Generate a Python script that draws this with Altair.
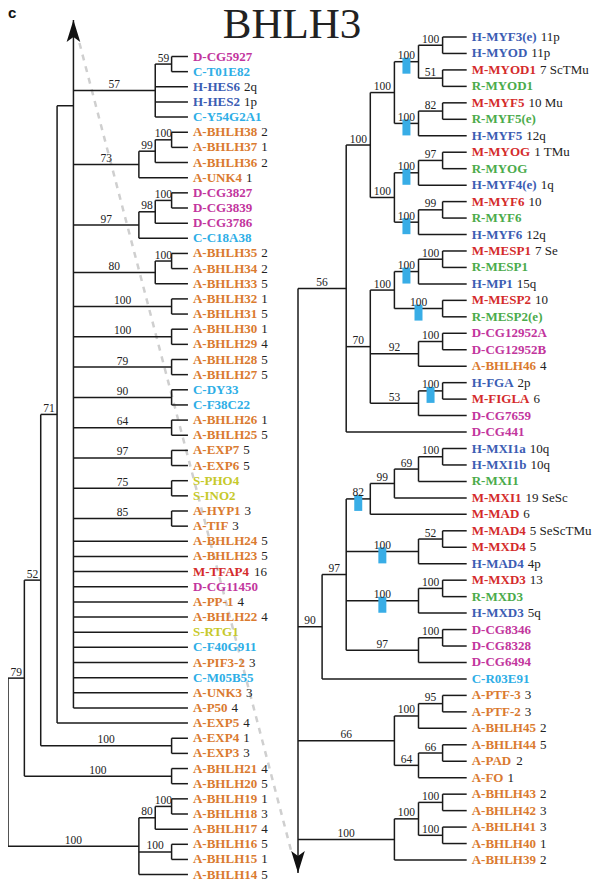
import altair as alt
import pandas as pd

# ---------------- data ----------------
left_leaves = ["D-CG5927", "C-T01E82", "H-HES6", "H-HES2", "C-Y54G2A1", "A-BHLH38", "A-BHLH37",
               "A-BHLH36", "A-UNK4", "D-CG3827", "D-CG3839", "D-CG3786", "C-C18A38", "A-BHLH35",
               "A-BHLH34", "A-BHLH33", "A-BHLH32", "A-BHLH31", "A-BHLH30", "A-BHLH29", "A-BHLH28",
               "A-BHLH27", "C-DY33", "C-F38C22", "A-BHLH26", "A-BHLH25", "A-EXP7", "A-EXP6",
               "S-PHO4", "S-INO2", "A-HYP1", "A-TIF", "A-BHLH24", "A-BHLH23", "M-TFAP4",
               "D-CG11450", "A-PP-1", "A-BHLH22", "S-RTG1", "C-F40G911", "A-PIF3-2", "C-M05B55",
               "A-UNK3", "A-P50", "A-EXP5", "A-EXP4", "A-EXP3", "A-BHLH21", "A-BHLH20",
               "A-BHLH19", "A-BHLH18", "A-BHLH17", "A-BHLH16", "A-BHLH15", "A-BHLH14"]
left_notes = ["", "", "2q", "1p", "", "2", "1", "2", "1", "", "", "", "", "2",
              "2", "5", "1", "5", "1", "4", "5", "5", "", "", "1", "5", "5", "5",
              "", "", "3", "3", "5", "5", "16", "", "4", "4", "", "", "3", "",
              "3", "4", "4", "1", "3", "4", "5", "1", "3", "4", "5", "1", "5"]

right_leaves = ["H-MYF3(e)", "H-MYOD", "M-MYOD1", "R-MYOD1", "M-MYF5", "R-MYF5(e)", "H-MYF5",
                "M-MYOG", "R-MYOG", "H-MYF4(e)", "M-MYF6", "R-MYF6", "H-MYF6", "M-MESP1",
                "R-MESP1", "H-MP1", "M-MESP2", "R-MESP2(e)", "D-CG12952A", "D-CG12952B",
                "A-BHLH46", "H-FGA", "M-FIGLA", "D-CG7659", "D-CG441", "H-MXI1a", "H-MXI1b",
                "R-MXI1", "M-MXI1", "M-MAD", "M-MAD4", "M-MXD4", "H-MAD4", "M-MXD3", "R-MXD3",
                "H-MXD3", "D-CG8346", "D-CG8328", "D-CG6494", "C-R03E91", "A-PTF-3", "A-PTF-2",
                "A-BHLH45", "A-BHLH44", "A-PAD", "A-FO", "A-BHLH43", "A-BHLH42", "A-BHLH41",
                "A-BHLH40", "A-BHLH39"]
right_notes = ["11p", "11p", "7  ScTMu", "", "10 Mu", "", "12q", "1 TMu", "", "1q", "10", "",
               "12q", "7  Se", "", "15q", "10", "", "", "", "4", "2p", "6", "", "", "10q", "10q",
               "", "19 SeSc", "6", "5 SeScTMu", "5", "4p", "13", "", "5q", "", "", "", "",
               "3", "3", "2", "5", "2", "1", "2", "3", "3", "1", "2"]

group_colors = {"A": "#da7a2f", "C": "#2eaee6", "D": "#c2359d", "H": "#3b5db3",
                "M": "#d42b2b", "R": "#4bab4b", "S": "#c6c92b"}

# tree topology: (level, bootstrap, children, options)
left_tree = (0, "", [
    (1, "79", [
        (2, "52", [
            (3, "71", [
                (4, "", [
                    (9, "57", [(10, "59", ["D-CG5927", "C-T01E82"]), "H-HES6", "H-HES2", "C-Y54G2A1"]),
                    (8, "73", [(9, "99", [(10, "100", ["A-BHLH38", "A-BHLH37"]), "A-BHLH36"]), "A-UNK4"]),
                    (8, "97", [(9, "98", [(10, "100", ["D-CG3827", "D-CG3839"]), "D-CG3786"]), "C-C18A38"]),
                    (9, "80", [(10, "100", ["A-BHLH35", "A-BHLH34"]), "A-BHLH33"]),
                    (10, "100", ["A-BHLH32", "A-BHLH31"]),
                    (10, "100", ["A-BHLH30", "A-BHLH29"]),
                    (10, "79", ["A-BHLH28", "A-BHLH27"]),
                    (10, "90", ["C-DY33", "C-F38C22"]),
                    (10, "64", ["A-BHLH26", "A-BHLH25"]),
                    (10, "97", ["A-EXP7", "A-EXP6"]),
                    (10, "75", ["S-PHO4", "S-INO2"]),
                    (10, "85", ["A-HYP1", "A-TIF"]),
                    "A-BHLH24", "A-BHLH23", "M-TFAP4", "D-CG11450", "A-PP-1", "A-BHLH22",
                    "S-RTG1", "C-F40G911", "A-PIF3-2", "C-M05B55", "A-UNK3", "A-P50"], "top up"),
                "A-EXP5"]),
            (10, "100", ["A-EXP4", "A-EXP3"])]),
        (10, "100", ["A-BHLH21", "A-BHLH20"])]),
    (8, "100", [(9, "80", [(10, "100", ["A-BHLH19", "A-BHLH18"]), "A-BHLH17"]),
                (10, "100", ["A-BHLH16", "A-BHLH15"]), "A-BHLH14"])])

right_tree = (0, "", [
    (2, "56", [
        (3, "100", [
            (4, "100", [
                (5, "100", [(6, "100", ["H-MYF3(e)", "H-MYOD"]), (6, "51", ["M-MYOD1", "R-MYOD1"])], "box"),
                (5, "100", [(6, "82", ["M-MYF5", "R-MYF5(e)"]), "H-MYF5"], "box")]),
            (4, "100", [
                (5, "100", [(6, "97", ["M-MYOG", "R-MYOG"]), "H-MYF4(e)"], "box"),
                (5, "100", [(6, "99", ["M-MYF6", "R-MYF6"]), "H-MYF6"], "box")])]),
        (3, "70", [
            (4, "100", [
                (5, "100", [(6, "100", ["M-MESP1", "R-MESP1"]), "H-MP1"], "box"),
                (6, "100", ["M-MESP2", "R-MESP2(e)"], "box")]),
            (5, "92", [(6, "100", ["D-CG12952A", "D-CG12952B"]), "A-BHLH46"]),
            (5, "53", [(6, "100", ["H-FGA", "M-FIGLA"], "box"), "D-CG7659"])]),
        "D-CG441"]),
    (1, "90", [
        (2, "97", [
            (3, "82", [(4, "99", [(5, "69", [(6, "100", ["H-MXI1a", "H-MXI1b"]), "R-MXI1"]), "M-MXI1"]),
                       "M-MAD"], "box"),
            (5, "100", [(6, "52", ["M-MAD4", "M-MXD4"]), "H-MAD4"], "box"),
            (5, "100", [(6, "100", ["M-MXD3", "R-MXD3"]), "H-MXD3"], "box"),
            (5, "97", [(6, "100", ["D-CG8346", "D-CG8328"]), "D-CG6494"])]),
        "C-R03E91"]),
    (4, "66", [(5, "100", [(6, "95", ["A-PTF-3", "A-PTF-2"]), "A-BHLH45"]),
               (5, "64", [(6, "66", ["A-BHLH44", "A-PAD"]), "A-FO"])]),
    (4, "100", [(5, "100", [(6, "100", ["A-BHLH43", "A-BHLH42"]), (6, "100", ["A-BHLH41", "A-BHLH40"])]),
                "A-BHLH39"])], "down")

title_text = "BHLH3"
panel_letter = "c"

# ---------------- layout helpers ----------------
CW = {"A": 722, "B": 667, "C": 722, "D": 722, "E": 667, "F": 611, "G": 778, "H": 778, "I": 389,
      "J": 500, "K": 778, "L": 667, "M": 944, "N": 722, "O": 778, "P": 611, "Q": 778, "R": 722,
      "S": 556, "T": 667, "U": 722, "V": 722, "W": 1000, "X": 722, "Y": 722, "Z": 667,
      "a": 500, "b": 556, "e": 444, "-": 333, "(": 333, ")": 333, " ": 250}


def text_w(s, size):
    return sum(CW.get(c, 500) for c in s) * size / 1000.0


segs, sups, boxes, arrows = [], [], [], []


def lay(node, X, Y, leaf_level, step):
    if isinstance(node, str):
        return X(leaf_level), Y[node]
    lvl, sup, kids = node[0], node[1], node[2]
    opts = node[3] if len(node) > 3 else ""
    x = X(lvl)
    pts = [lay(k, X, Y, leaf_level, step) for k in kids]
    ys = [p[1] for p in pts]
    lo, hi = min(ys), max(ys)
    y = (lo + hi) / 2
    if "top" in opts:
        y = lo + step
    if "up" in opts:
        lo = 20.0
        arrows.append({"x": x, "y": lo + 11, "dir": "up"})
    if "down" in opts:
        hi = 873.0
        arrows.append({"x": x, "y": hi - 11, "dir": "down"})
    segs.append({"x": x, "y": lo, "x2": x, "y2": hi})
    for (cx, cy), k in zip(pts, kids):
        segs.append({"x": x, "y": cy, "x2": cx, "y2": cy})
        if not isinstance(k, str):
            mid = (x + cx) / 2
            if len(k) > 3 and "box" in k[3]:
                boxes.append({"x": mid - 4, "x2": mid + 4, "y": cy - 4, "y2": cy + 12})
            if k[1]:
                sups.append({"x": mid, "y": cy - 2.5, "t": k[1]})
    return x, y


LX0, LDX, LY0, LDY = 8.0, 16.36, 56.5, 15.15
RX0, RDX, RY0, RDY = 298.0, 24.1, 37.0, 16.46
LY = {n: LY0 + i * LDY for i, n in enumerate(left_leaves)}
RY = {n: RY0 + i * RDY for i, n in enumerate(right_leaves)}
lay(left_tree, lambda l: LX0 + LDX * l, LY, 11, LDY)
lay(right_tree, lambda l: RX0 + RDX * l, RY, 7, RDY)

labels, notes = [], []
for leaves, nts, ymap, lx in [(left_leaves, left_notes, LY, LX0 + LDX * 11 + 5),
                              (right_leaves, right_notes, RY, RX0 + RDX * 7 + 5)]:
    for n, t in zip(leaves, nts):
        labels.append({"x": lx, "y": ymap[n], "t": n, "c": group_colors[n[0]]})
        if t:
            notes.append({"x": lx + text_w(n, 13) + 4, "y": ymap[n], "t": t})

up = [a for a in arrows if a["dir"] == "up"][0]
dn = [a for a in arrows if a["dir"] == "down"][0]
dash = pd.DataFrame([{"x": up["x"] + 6, "y": up["y"] + 12, "x2": dn["x"] - 6, "y2": dn["y"] - 8}])

# ---------------- chart ----------------
XS = alt.Scale(domain=[8, 596], nice=False, zero=False)
YS = alt.Scale(domain=[8, 881], nice=False, zero=False, reverse=True)
X = alt.X("x:Q", scale=XS, axis=None)
Y = alt.Y("y:Q", scale=YS, axis=None)

dash_layer = alt.Chart(dash).mark_rule(color="#cfcfcf", strokeWidth=2.5, strokeDash=[6, 6]).encode(
    x=X, y=Y, x2="x2:Q", y2="y2:Q")
seg_layer = alt.Chart(pd.DataFrame(segs)).mark_rule(color="#1a1a1a", strokeWidth=1.5).encode(
    x=X, y=Y, x2="x2:Q", y2="y2:Q")
box_layer = alt.Chart(pd.DataFrame(boxes)).mark_rect(color="#38ade6").encode(
    x=X, y=Y, x2="x2:Q", y2="y2:Q")
UP = "M0,-1 L0.62,1 L0,0.55 L-0.62,1 Z"
DOWN = "M0,1 L0.62,-1 L0,-0.55 L-0.62,-1 Z"
arrow_up = alt.Chart(pd.DataFrame([up])).mark_point(
    shape=UP, size=484, filled=True, color="#111111", opacity=1).encode(x=X, y=Y)
arrow_dn = alt.Chart(pd.DataFrame([dn])).mark_point(
    shape=DOWN, size=484, filled=True, color="#111111", opacity=1).encode(x=X, y=Y)
sup_layer = alt.Chart(pd.DataFrame(sups)).mark_text(
    font="Liberation Serif", fontSize=11.5, color="#222222", align="center", baseline="alphabetic").encode(
    x=X, y=Y, text="t:N")
label_layer = alt.Chart(pd.DataFrame(labels)).mark_text(
    font="Liberation Serif", fontSize=13, fontWeight="bold", align="left", baseline="middle").encode(
    x=X, y=Y, text="t:N", color=alt.Color("c:N", scale=None))
note_layer = alt.Chart(pd.DataFrame(notes)).mark_text(
    font="Liberation Serif", fontSize=13, color="#222222", align="left", baseline="middle").encode(
    x=X, y=Y, text="t:N")
title_layer = alt.Chart(pd.DataFrame([{"x": 292, "y": 38, "t": title_text}])).mark_text(
    font="Liberation Serif", fontSize=43, color="#222222", align="center", baseline="alphabetic").encode(
    x=X, y=Y, text="t:N")
letter_layer = alt.Chart(pd.DataFrame([{"x": 8, "y": 18, "t": panel_letter}])).mark_text(
    font="Liberation Sans", fontSize=15, fontWeight="bold", color="#111111", align="left",
    baseline="alphabetic").encode(x=X, y=Y, text="t:N")

chart = alt.layer(dash_layer, seg_layer, box_layer, arrow_up, arrow_dn, sup_layer, label_layer,
                  note_layer, title_layer, letter_layer).properties(
    width=588, height=873, padding=0, autosize="none").configure_view(strokeWidth=0)

chart.save("out.html", embed_options={"renderer": "svg", "actions": False})
